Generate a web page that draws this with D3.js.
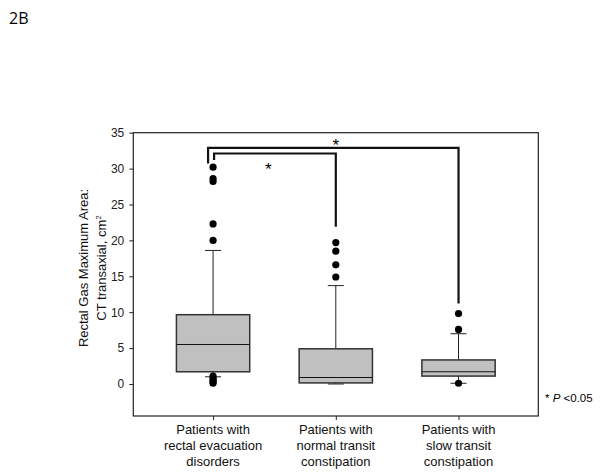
<!DOCTYPE html>
<html lang="en">
<head>
<meta charset="utf-8">
<title>Rectal gas maximum area by group</title>
<script src="https://cdn.jsdelivr.net/npm/d3@7"></script>
<style>
  body { margin: 0; background: #fff; }
  svg { display: block; }
  .tick text { font-family: "Liberation Sans", Arial, sans-serif; font-size: 12px; fill: #222; }
  .lbl { font-family: "Liberation Sans", Arial, sans-serif; font-size: 13px; fill: #111; }
</style>
</head>
<body>
<div id="chart"></div>
<script>
// groups and box stats
var groups = ["Patients with|rectal evacuation|disorders",
              "Patients with|normal transit|constipation",
              "Patients with|slow transit|constipation"];
var q1 =      [1.7, 0.15, 1.1];
var median =  [5.5, 0.9, 1.7];
var q3 =      [9.65, 4.9, 3.35];
var whiskLo = [1.0, 0.0, 0.1];
var whiskHi = [18.6, 13.7, 7.0];
var outliers = [
  [30.2, 28.6, 28.2, 22.3, 20.0, 1.1, 0.8, 0.5, 0.3, 0.1],
  [19.7, 18.5, 16.6, 14.9],
  [9.8, 7.6, 0.1]
];
var yTicks = [0, 5, 10, 15, 20, 25, 30, 35];

// significance brackets: from group, to group, top value, left end, right end
var brackets = [
  {a: 0, b: 2, top: 32.9, endA: 30.7, endB: 11.2, starX: 0.5, starY: 33.7},
  {a: 0, b: 1, top: 32.1, endA: 31.2, endB: 21.9, starX: 0.45, starY: 30.3}
];

var W = 600, H = 473;
var margin = {top: 132.7, left: 133.3, right: 61.7, bottom: 57};
var width = W - margin.left - margin.right,
    height = H - margin.top - margin.bottom;

var svg = d3.select("#chart").append("svg")
    .attr("width", W).attr("height", H);

svg.append("text")
   .attr("x", 9).attr("y", 24)
   .style("font-family", "'Open Sans', sans-serif")
   .style("font-size", "16px")
   .text("2B");

var g = svg.append("g").attr("transform", "translate(" + margin.left + "," + margin.top + ")");

var x = d3.scalePoint().domain(d3.range(groups.length)).range([0, width]).padding(0.65);
var y = d3.scaleLinear().domain([-4.46, 35]).range([height, 0]);

// frame
g.append("rect")
 .attr("width", width).attr("height", height)
 .attr("fill", "none").attr("stroke", "#222").attr("stroke-width", 1.2);

var yAxis = g.append("g")
   .call(d3.axisLeft(y).tickValues(yTicks).tickSize(4).tickPadding(5));
yAxis.select(".domain").remove();
yAxis.selectAll("line").attr("stroke", "#222");

var xAxis = g.append("g").attr("transform", "translate(0," + height + ")")
   .call(d3.axisBottom(x).tickSize(4).tickFormat(""));
xAxis.select(".domain").remove();
xAxis.selectAll("line").attr("stroke", "#222");

// x labels (multi-line)
groups.forEach(function(name, i) {
  var t = svg.append("text").attr("class", "lbl")
     .attr("text-anchor", "middle")
     .attr("x", margin.left + x(i)).attr("y", 434);
  name.split("|").forEach(function(s, k) {
    t.append("tspan").attr("x", margin.left + x(i)).attr("dy", k === 0 ? 0 : 16.2).text(s);
  });
});

// y label
var yl = svg.append("text").attr("class", "lbl")
   .attr("text-anchor", "middle")
   .attr("transform", "translate(88,268) rotate(-90)");
yl.append("tspan").attr("x", 0).attr("y", 0).text("Rectal Gas Maximum Area:");
var l2 = yl.append("tspan").attr("x", 0).attr("y", 18).text("CT transaxial, cm");
yl.append("tspan").attr("dy", -5).style("font-size", "8px").text("2");

// boxes
var boxW = 73.3, capW = 16;
groups.forEach(function(name, i) {
  var cx = x(i);
  var b = g.append("g");
  b.append("line").attr("x1", cx).attr("x2", cx)
   .attr("y1", y(q3[i])).attr("y2", y(whiskHi[i])).attr("stroke", "#222");
  b.append("line").attr("x1", cx).attr("x2", cx)
   .attr("y1", y(q1[i])).attr("y2", y(whiskLo[i])).attr("stroke", "#222");
  [whiskHi[i], whiskLo[i]].forEach(function(v) {
    b.append("line").attr("x1", cx - capW / 2).attr("x2", cx + capW / 2)
     .attr("y1", y(v)).attr("y2", y(v)).attr("stroke", "#222");
  });
  b.append("rect")
   .attr("x", cx - boxW / 2).attr("width", boxW)
   .attr("y", y(q3[i])).attr("height", y(q1[i]) - y(q3[i]))
   .attr("fill", "#c0c0c0").attr("stroke", "#333").attr("stroke-width", 1.5);
  b.append("line").attr("x1", cx - boxW / 2).attr("x2", cx + boxW / 2)
   .attr("y1", y(median[i])).attr("y2", y(median[i])).attr("stroke", "#111");
  b.selectAll("circle").data(outliers[i]).enter().append("circle")
   .attr("cx", cx).attr("cy", function(d) { return y(d); })
   .attr("r", 3.6).attr("fill", "#000");
});

// brackets
brackets.forEach(function(br) {
  var xa = x(br.a) + (br.a === 0 && br.b === 1 ? 6 : 0) - 5, xb = x(br.b);
  var pts = [[xa, y(br.endA)], [xa, y(br.top)], [xb, y(br.top)], [xb, y(br.endB)]];
  g.append("path").attr("d", d3.line()(pts))
   .attr("fill", "none").attr("stroke", "#111").attr("stroke-width", 2.2);
  g.append("text")
   .attr("x", x(br.a) + (x(br.b) - x(br.a)) * br.starX)
   .attr("y", y(br.starY) + 9)
   .attr("text-anchor", "middle")
   .style("font-family", "'Liberation Sans', Arial, sans-serif")
   .style("font-size", "17px")
   .text("*");
});

// footnote
var fn = svg.append("text").attr("x", 545).attr("y", 402)
   .style("font-family", "'Liberation Sans', Arial, sans-serif").style("font-size", "11.5px");
fn.append("tspan").text("* ");
fn.append("tspan").style("font-style", "italic").text("P");
fn.append("tspan").text(" <0.05");
</script>
</body>
</html>
